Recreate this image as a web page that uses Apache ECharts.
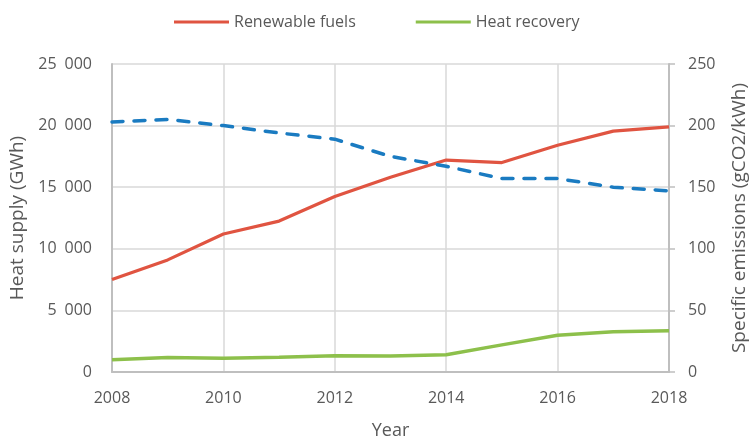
<!DOCTYPE html>
<html>
<head>
<meta charset="utf-8">
<script src="https://cdn.jsdelivr.net/npm/echarts@6/dist/echarts.min.js"></script>
<style>
  html, body { margin: 0; padding: 0; background: #fff; }
  #chart { width: 749px; height: 440px; }
</style>
</head>
<body>
<div id="chart"></div>
<script>
// values
var years = [2008, 2009, 2010, 2011, 2012, 2013, 2014, 2015, 2016, 2017, 2018];
var renewableFuels = [7500, 9100, 11200, 12250, 14250, 15800, 17200, 17000, 18400, 19550, 19900];
var heatRecovery = [1000, 1180, 1120, 1200, 1310, 1300, 1400, 2200, 2980, 3260, 3340];
var specificEmissions = [203, 205, 200, 194, 189, 175, 167, 157, 157, 150, 147];

var textColor = '#595959';
var font = 'Open Sans';

function pairs(vals) {
    return years.map(function (y, i) { return [y, vals[i]]; });
}

// "25 000" style labels, wider gap like the original
function spaced(v) {
    if (v < 1000) return String(v);
    return Math.floor(v / 1000) + '\u2002' + String(v % 1000).padStart(3, '0');
}

var chart = echarts.init(document.getElementById('chart'));
chart.setOption({
    animation: false,
    textStyle: { fontFamily: font, color: textColor },
    legend: {
        data: ['Renewable fuels', 'Heat recovery'],
        top: 9,
        left: 169,
        itemWidth: 55,
        itemHeight: 3,
        itemGap: 60,
        icon: 'rect',
        textStyle: { fontSize: 16, color: textColor, fontFamily: font }
    },
    grid: { left: 112, right: 80, top: 64, bottom: 68, outerBoundsMode: 'none', containLabel: false },
    xAxis: {
        type: 'value',
        min: 2008,
        max: 2018,
        interval: 2,
        name: 'Year',
        nameLocation: 'middle',
        nameGap: 50,
        nameTextStyle: { fontSize: 18, color: textColor },
        axisLine: { lineStyle: { color: '#bfbfbf', width: 2 } },
        axisTick: { show: false },
        axisLabel: { fontSize: 16, color: textColor, margin: 18, formatter: function (v) { return String(v); } },
        splitLine: { show: true, lineStyle: { color: '#d9d9d9', width: 1.5 } }
    },
    yAxis: [{
        type: 'value',
        min: 0,
        max: 25000,
        interval: 5000,
        name: 'Heat supply (GWh)',
        nameLocation: 'middle',
        nameRotate: 90,
        nameGap: 83,
        nameTextStyle: { fontSize: 19, color: textColor },
        axisLine: { show: true, lineStyle: { color: '#bfbfbf', width: 2 } },
        axisTick: { show: false },
        axisLabel: { fontSize: 16, color: textColor, margin: 20, formatter: spaced },
        splitLine: { lineStyle: { color: '#d9d9d9', width: 1.5 } }
    }, {
        type: 'value',
        min: 0,
        max: 250,
        interval: 50,
        position: 'right',
        name: 'Specific emissions (gCO2/kWh)',
        nameLocation: 'middle',
        nameRotate: 90,
        nameGap: 61,
        nameTextStyle: { fontSize: 19, color: textColor },
        axisLine: { show: true, lineStyle: { color: '#bfbfbf', width: 2 } },
        axisTick: { show: true, length: 6, lineStyle: { color: '#bfbfbf', width: 1.5 } },
        axisLabel: { fontSize: 16, color: textColor, margin: 19 },
        splitLine: { show: false }
    }],
    series: [{
        name: 'Renewable fuels',
        type: 'line',
        yAxisIndex: 0,
        data: pairs(renewableFuels),
        symbol: 'none',
        color: '#e05441',
        lineStyle: { width: 3.2, color: '#e05441' }
    }, {
        name: 'Heat recovery',
        type: 'line',
        yAxisIndex: 0,
        data: pairs(heatRecovery),
        symbol: 'none',
        color: '#8dc04b',
        lineStyle: { width: 3.5, color: '#8dc04b' }
    }, {
        name: 'Specific emissions',
        type: 'line',
        yAxisIndex: 1,
        data: pairs(specificEmissions),
        symbol: 'none',
        color: '#1a7bc1',
        lineStyle: { width: 3.5, color: '#1a7bc1', type: [11, 11], cap: 'round' }
    }]
});
</script>
</body>
</html>
